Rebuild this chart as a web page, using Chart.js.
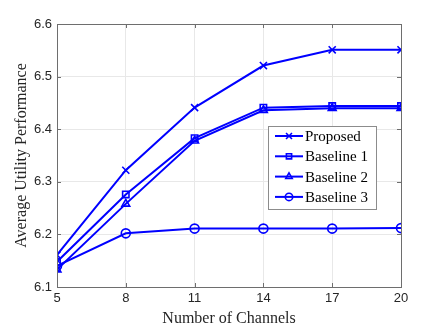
<!DOCTYPE html>
<html>
<head>
<meta charset="utf-8">
<script src="https://cdn.jsdelivr.net/npm/chart.js@4.4.1/dist/chart.umd.min.js"></script>
<style>
  html, body { margin: 0; padding: 0; background: #fff; }
  #wrap { width: 437px; height: 328px; }
</style>
</head>
<body>
<div id="wrap"><canvas id="chart" width="437" height="328"></canvas></div>
<script>
// values
var channels = [5, 8, 11, 14, 17, 20]
var proposed = [6.161, 6.322, 6.441, 6.521, 6.551, 6.551]
var baseline1 = [6.148, 6.276, 6.383, 6.441, 6.444, 6.444]
var baseline2 = [6.133, 6.258, 6.378, 6.436, 6.440, 6.440]
var baseline3 = [6.140, 6.202, 6.211, 6.211, 6.211, 6.212]
var seriesNames = ['Proposed', 'Baseline 1', 'Baseline 2', 'Baseline 3']
var markers = ['crossRot', 'rect', 'triangle', 'circle']
var yTicks = [6.1, 6.2, 6.3, 6.4, 6.5, 6.6]

var blue = 'rgb(0, 0, 255)'
var serif = '"Liberation Serif", "DejaVu Serif", serif'
var sans = '"Liberation Sans", Arial, sans-serif'

function makeSet(name, vals, marker) {
    return {
        label: name,
        data: channels.map(function (c, i) { return { x: c, y: vals[i] } }),
        borderColor: blue,
        backgroundColor: 'rgba(0,0,0,0)',
        borderWidth: 2,
        pointStyle: marker,
        pointRadius: marker == 'crossRot' ? 5 : 4.5,
        pointBorderWidth: 1.6,
        pointBorderColor: blue,
        pointBackgroundColor: 'rgba(0,0,0,0)',
        tension: 0
    }
}

// matlab-ish inner ticks, box and legend
const boxPlugin = {
    id: 'boxPlugin',
    afterDraw: function (chart) {
        var ctx = chart.ctx
        var a = chart.chartArea
        var xs = chart.scales.x
        var ys = chart.scales.y
        ctx.save()
        ctx.strokeStyle = '#6e6e6e'
        ctx.lineWidth = 1
        ctx.beginPath()
        channels.forEach(function (c) {
            var px = Math.round(xs.getPixelForValue(c)) + 0.5
            ctx.moveTo(px, a.bottom); ctx.lineTo(px, a.bottom - 4)
            ctx.moveTo(px, a.top); ctx.lineTo(px, a.top + 4)
        })
        yTicks.forEach(function (v) {
            var py = Math.round(ys.getPixelForValue(v)) + 0.5
            ctx.moveTo(a.left, py); ctx.lineTo(a.left + 4, py)
            ctx.moveTo(a.right, py); ctx.lineTo(a.right - 4, py)
        })
        ctx.stroke()
        ctx.strokeRect(Math.round(a.left) + 0.5, Math.round(a.top) + 0.5, Math.round(a.right - a.left), Math.round(a.bottom - a.top))

        // legend
        var lx = a.right - 133, ly = a.top + 102, lw = 108, lh = 83
        ctx.fillStyle = '#fff'
        ctx.fillRect(lx, ly, lw, lh)
        ctx.strokeStyle = '#8c8c8c'
        ctx.strokeRect(lx + 0.5, ly + 0.5, lw, lh)
        ctx.font = '15px ' + serif
        ctx.textBaseline = 'middle'
        chart.data.datasets.forEach(function (ds, i) {
            var ry = ly + 10 + i * 20.3
            ctx.strokeStyle = blue
            ctx.lineWidth = 2
            ctx.beginPath()
            ctx.moveTo(lx + 7, ry); ctx.lineTo(lx + 35, ry)
            ctx.stroke()
            ctx.lineWidth = 1.6
            ctx.fillStyle = 'rgba(0,0,0,0)'
            Chart.helpers.drawPoint(ctx, { pointStyle: ds.pointStyle, radius: ds.pointRadius - 0.8, borderWidth: 1.6, rotation: 0 }, lx + 21, ry)
            ctx.fillStyle = '#000'
            ctx.fillText(ds.label, lx + 37, ry + 1)
        })
        ctx.restore()
    }
}

const config = {
    type: 'line',
    data: {
        datasets: [
            makeSet(seriesNames[0], proposed, markers[0]),
            makeSet(seriesNames[1], baseline1, markers[1]),
            makeSet(seriesNames[2], baseline2, markers[2]),
            makeSet(seriesNames[3], baseline3, markers[3])
        ]
    },
    options: {
        responsive: false,
        animation: false,
        layout: { padding: { left: 0, right: 36, top: 24, bottom: 0 } },
        plugins: {
            legend: { display: false },
            tooltip: { enabled: false }
        },
        scales: {
            x: {
                type: 'linear',
                min: 5,
                max: 20,
                afterBuildTicks: function (s) { s.ticks = channels.map(function (v) { return { value: v } }) },
                grid: { color: '#e8e8e8', drawTicks: false },
                border: { display: false },
                ticks: { color: '#262626', font: { family: sans, size: 13 }, padding: 4, maxRotation: 0 },
                title: { display: true, text: 'Number of Channels', color: '#262626', font: { family: serif, size: 16 }, padding: { top: 0, bottom: 0 } },
                afterFit: function (s) { s.height = 41 }
            },
            y: {
                min: 6.1,
                max: 6.6,
                afterBuildTicks: function (s) { s.ticks = yTicks.map(function (v) { return { value: v } }) },
                grid: { color: '#e8e8e8', drawTicks: false },
                border: { display: false },
                ticks: { color: '#262626', font: { family: sans, size: 13 }, padding: 5, callback: function (v) { return v.toFixed(1) } },
                title: { display: true, text: 'Average Utility Performance', color: '#262626', font: { family: serif, size: 16 }, padding: { top: 12, bottom: 0 } },
                afterFit: function (s) { s.width = 57 }
            }
        }
    },
    plugins: [boxPlugin]
}

const myChart = new Chart(document.getElementById('chart'), config)
</script>
</body>
</html>
